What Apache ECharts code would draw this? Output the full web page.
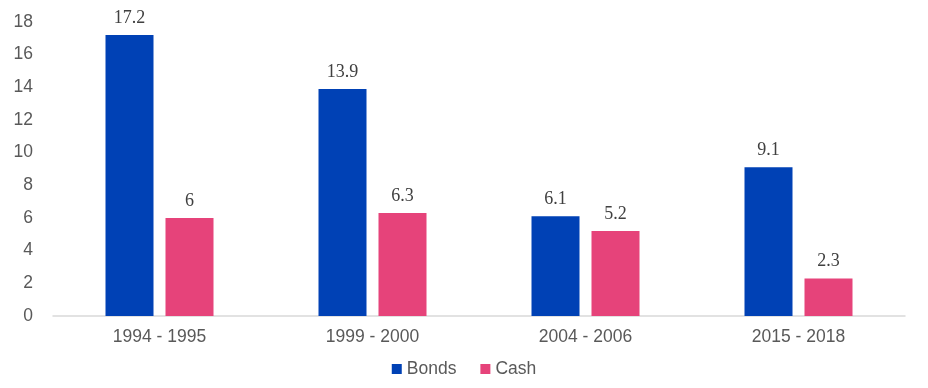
<!DOCTYPE html>
<html><head><meta charset="utf-8">
<script src="https://cdn.jsdelivr.net/npm/echarts@6/dist/echarts.min.js"></script>
<style>html,body{margin:0;padding:0;background:#fff}#c{width:928px;height:388px}</style>
</head><body><div id="c"></div>
<script>
const categories = ['1994 - 1995', '1999 - 2000', '2004 - 2006', '2015 - 2018'];
const bonds = [17.2, 13.9, 6.1, 9.1];
const cash = [6, 6.3, 5.2, 2.3];
const yTicks = {min: 0, max: 18, interval: 2};

const chart = echarts.init(document.getElementById('c'));
const labelStyle = {show: true, position: 'top', distance: 8, fontFamily: 'Liberation Serif, DejaVu Serif, serif', fontSize: 18, color: '#404040'};
chart.setOption({
  animation: false,
  grid: {left: 53, right: 23, top: 22, bottom: 72},
  legend: {
    bottom: 5, left: 'center', itemWidth: 10, itemHeight: 10, itemGap: 24,
    icon: 'rect',
    textStyle: {fontFamily: 'Liberation Sans, Arial, sans-serif', fontSize: 17.5, color: '#595959'},
    data: ['Bonds', 'Cash']
  },
  xAxis: {
    type: 'category', data: categories,
    axisLine: {lineStyle: {color: '#d9d9d9', width: 1.5}},
    axisTick: {show: false},
    axisLabel: {margin: 12, fontFamily: 'Liberation Sans, Arial, sans-serif', fontSize: 17.5, color: '#595959'}
  },
  yAxis: {
    type: 'value', min: yTicks.min, max: yTicks.max, interval: yTicks.interval,
    axisLine: {show: false}, axisTick: {show: false}, splitLine: {show: false},
    axisLabel: {margin: 20, fontFamily: 'Liberation Sans, Arial, sans-serif', fontSize: 17.5, color: '#595959'}
  },
  series: [
    {name: 'Bonds', type: 'bar', data: bonds, barWidth: 48, barGap: '25%', itemStyle: {color: '#0041B5'}, label: labelStyle},
    {name: 'Cash', type: 'bar', data: cash, barWidth: 48, barGap: '25%', itemStyle: {color: '#E6437A'}, label: labelStyle}
  ]
});
</script></body></html>
